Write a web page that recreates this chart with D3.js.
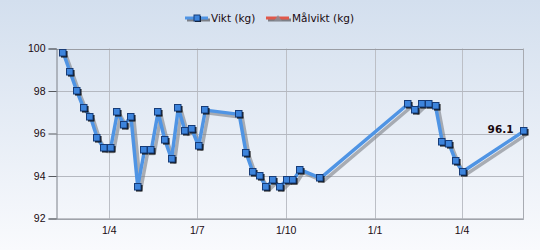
<!DOCTYPE html>
<html>
<head>
<meta charset="utf-8">
<script src="https://cdn.jsdelivr.net/npm/d3@7"></script>
<style>
  body { margin: 0; background: #fff; }
  svg { display: block; font-family: "DejaVu Sans", sans-serif; }
  .axis text { font-size: 10.5px; fill: #1a0a10; }
</style>
</head>
<body>
<div class="chart-main"></div>
<script>

//////////
// DATA //
//////////

var dates = [
    '2012-02-14', '2012-02-21', '2012-02-28', '2012-03-06', '2012-03-13', '2012-03-20',
    '2012-03-27', '2012-04-03', '2012-04-10', '2012-04-17', '2012-04-24', '2012-05-01',
    '2012-05-08', '2012-05-15', '2012-05-22', '2012-05-29', '2012-06-05', '2012-06-12',
    '2012-06-19', '2012-06-26', '2012-07-03', '2012-07-10', '2012-08-14', '2012-08-21',
    '2012-08-28', '2012-09-04', '2012-09-11', '2012-09-18', '2012-09-25', '2012-10-02',
    '2012-10-09', '2012-10-16', '2012-11-06', '2013-02-05', '2013-02-12', '2013-02-19',
    '2013-02-26', '2013-03-05', '2013-03-12', '2013-03-19', '2013-03-26', '2013-04-02',
    '2013-06-04'
];

var vikt = [
    99.8, 98.9, 98.0, 97.2, 96.8, 95.8, 95.3, 95.3, 97.0, 96.4, 96.8, 93.5,
    95.2, 95.2, 97.0, 95.7, 94.8, 97.2, 96.1, 96.2, 95.4, 97.1, 96.9, 95.1,
    94.2, 94.0, 93.5, 93.8, 93.5, 93.8, 93.8, 94.3, 93.9, 97.4, 97.1, 97.4,
    97.4, 97.3, 95.6, 95.5, 94.7, 94.2, 96.1
];

var yTicks = [92, 94, 96, 98, 100];
var seriesNames = ['Vikt (kg)', 'Målvikt (kg)'];

//////////////////
// CREATING SVG //
//////////////////

var w = 540,
    h = 250;

var svg = d3.select('.chart-main')
    .append('svg')
    .attr('width', w)
    .attr('height', h);

var defs = svg.append('defs');

var bg = defs.append('linearGradient')
    .attr('id', 'bgGrad')
    .attr('x1', 0).attr('y1', 0).attr('x2', 0).attr('y2', 1);
bg.append('stop').attr('offset', '0%').attr('stop-color', '#d3dfee');
bg.append('stop').attr('offset', '100%').attr('stop-color', '#f9fafd');

svg.append('rect')
    .attr('width', w)
    .attr('height', h)
    .attr('fill', 'url(#bgGrad)');

////////////
// SCALES //
////////////

var parse = d3.timeParse('%Y-%m-%d');
var points = dates.map(function(d, i) { return { date: parse(d), value: vikt[i] }; });

var mLeft = 56.5, mRight = 523.5, mTop = 48.5, mBottom = 218.5;

var xScale = d3.scaleTime()
    .domain([d3.timeDay.offset(points[0].date, -7), points[points.length - 1].date])
    .range([mLeft, mRight]);

var yScale = d3.scaleLinear()
    .domain([92, 100])
    .range([mBottom, mTop]);

//////////
// GRID //
//////////

var quarterTicks = d3.timeMonth.every(1).range(xScale.domain()[0], xScale.domain()[1])
    .filter(function(d) { return d.getMonth() % 3 === 0; });

svg.append('g')
    .selectAll('line')
    .data(quarterTicks)
    .enter()
    .append('line')
    .attr('x1', function(d) { return Math.round(xScale(d)) + 0.5; })
    .attr('x2', function(d) { return Math.round(xScale(d)) + 0.5; })
    .attr('y1', mTop)
    .attr('y2', mBottom)
    .attr('stroke', '#bcbfc6');

svg.append('g')
    .selectAll('line')
    .data(yTicks)
    .enter()
    .append('line')
    .attr('x1', mLeft)
    .attr('x2', mRight)
    .attr('y1', function(d) { return Math.round(yScale(d)) + 0.5; })
    .attr('y2', function(d) { return Math.round(yScale(d)) + 0.5; })
    .attr('stroke', function(d) { return d === 100 ? '#9a9da4' : '#b4b8c0'; });

// right border
svg.append('line')
    .attr('x1', mRight).attr('x2', mRight)
    .attr('y1', mTop).attr('y2', mBottom)
    .attr('stroke', '#a8abb2');

//////////
// AXIS //
//////////

var yAxis = d3.axisLeft(yScale)
    .tickValues(yTicks)
    .tickSize(8)
    .tickPadding(3)
    .tickFormat(d3.format('d'));

svg.append('g')
    .attr('class', 'axis')
    .attr('transform', 'translate(' + mLeft + ',0)')
    .call(yAxis)
    .call(function(g) {
        g.select('.domain').attr('stroke', '#7d8088');
        g.selectAll('.tick line').attr('stroke', '#55585e');
    });

var xAxis = d3.axisBottom(xScale)
    .tickValues(quarterTicks)
    .tickSize(0)
    .tickPadding(8)
    .tickFormat(function(d) { return '1/' + (d.getMonth() + 1); });

svg.append('g')
    .attr('class', 'axis')
    .attr('transform', 'translate(0,' + mBottom + ')')
    .call(xAxis)
    .call(function(g) {
        g.select('.domain').attr('stroke', '#8a8d94');
    });

//////////
// LINE //
//////////

var line = d3.line()
    .x(function(d) { return xScale(d.date); })
    .y(function(d) { return yScale(d.value); });

// shadow
svg.append('path')
    .datum(points)
    .attr('d', line)
    .attr('transform', 'translate(3,3)')
    .attr('fill', 'none')
    .attr('stroke', '#7c7f86')
    .attr('stroke-opacity', 0.6)
    .attr('stroke-width', 3.5)
    .attr('stroke-linejoin', 'round');

svg.append('path')
    .datum(points)
    .attr('d', line)
    .attr('fill', 'none')
    .attr('stroke', '#4f94e4')
    .attr('stroke-width', 3.5)
    .attr('stroke-linejoin', 'round');

// markers
var marks = svg.append('g')
    .selectAll('g')
    .data(points)
    .enter()
    .append('g')
    .attr('transform', function(d) {
        return 'translate(' + Math.round(xScale(d.date)) + ',' + Math.round(yScale(d.value)) + ')';
    });

marks.append('rect')
    .attr('x', -2).attr('y', -2)
    .attr('width', 6.5).attr('height', 6.5)
    .attr('fill', '#111');

marks.append('rect')
    .attr('x', -3.5).attr('y', -3.5)
    .attr('width', 6.5).attr('height', 6.5)
    .attr('fill', '#3d84dc')
    .attr('stroke', '#173c78')
    .attr('stroke-width', 1);

// last value label
var last = points[points.length - 1];
svg.append('text')
    .attr('x', xScale(last.date) - 10)
    .attr('y', yScale(last.value) + 2)
    .attr('text-anchor', 'end')
    .attr('font-size', '10.5px')
    .attr('font-weight', 'bold')
    .attr('fill', '#1a0a10')
    .text(d3.format('.1f')(last.value));

////////////
// LEGEND //
////////////

var legend = svg.append('g').attr('transform', 'translate(0,18)');
var legendColors = ['#4f94e4', '#e0584a'];
var legendX = [185, 266];
var textX = [211, 292];

legendX.forEach(function(x, i) {
    legend.append('line')
        .attr('x1', x + 2).attr('x2', x + 25)
        .attr('y1', 2).attr('y2', 2)
        .attr('stroke', '#7c7f86')
        .attr('stroke-width', 3);
    legend.append('line')
        .attr('x1', x).attr('x2', x + 23)
        .attr('y1', 0).attr('y2', 0)
        .attr('stroke', legendColors[i])
        .attr('stroke-width', 3);
    if (i === 0) {
        legend.append('rect').attr('x', x + 10).attr('y', -2).attr('width', 6).attr('height', 6).attr('fill', '#111');
        legend.append('rect').attr('x', x + 9).attr('y', -3).attr('width', 6).attr('height', 6)
            .attr('fill', '#3d84dc').attr('stroke', '#173c78');
    } else {
        legend.append('path').attr('d', 'M' + (x + 8) + ',3L' + (x + 12) + ',-3L' + (x + 16) + ',3Z')
            .attr('fill', '#8a8d96').attr('opacity', 0.8);
    }
    legend.append('text')
        .attr('x', textX[i])
        .attr('y', 4)
        .attr('font-size', '10.5px')
        .attr('fill', '#1a0a10')
        .text(seriesNames[i]);
});

</script>
</body>
</html>
